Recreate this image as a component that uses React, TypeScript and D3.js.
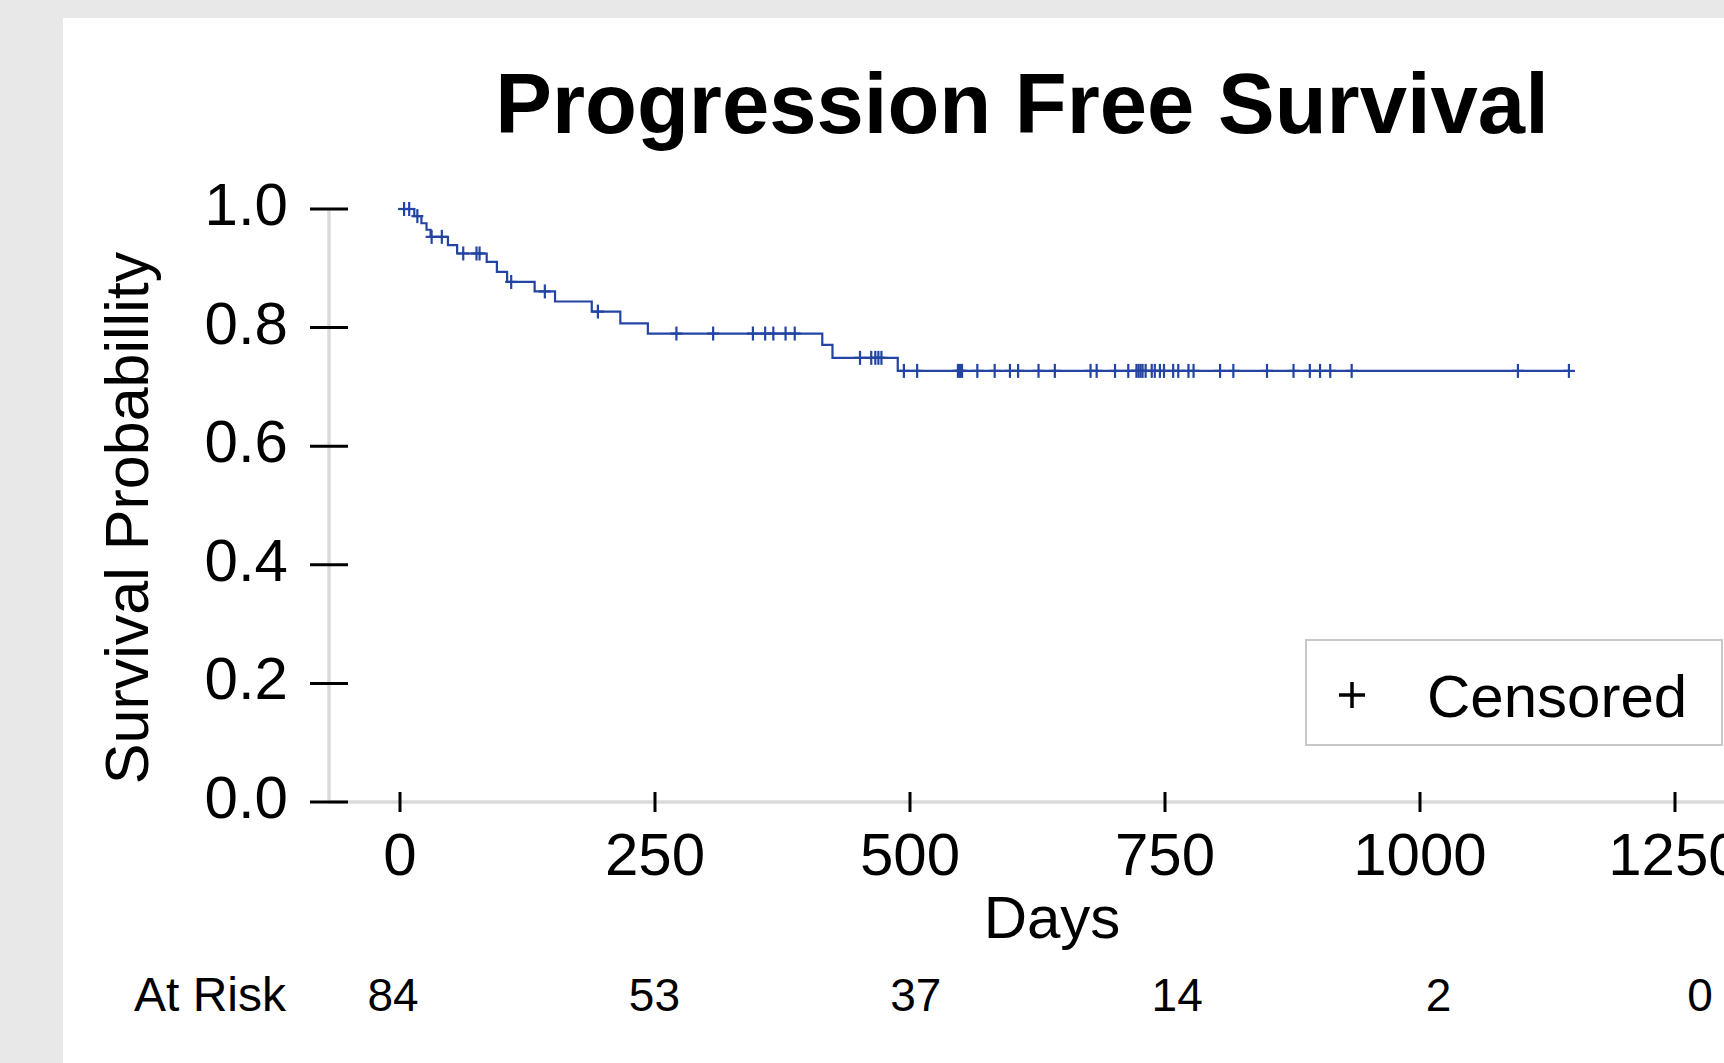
import * as d3 from 'd3';
import * as React from 'react';

const width = 1724;
const height = 1063;

// step curve: day of each drop and survival after it
const stepDays = [14, 21, 26, 30, 47, 56, 85, 95, 105, 132, 152, 188, 216, 243, 414, 424, 488];
const stepSurv = [0.988, 0.976, 0.965, 0.953, 0.939, 0.925, 0.911, 0.894, 0.877, 0.861, 0.844, 0.827, 0.807, 0.79, 0.771, 0.749, 0.727];

// censored observations (days)
const censorDays = [
  4, 9, 17, 31, 41, 62, 75, 78, 109, 142, 194, 271, 307, 346, 358, 366, 378, 387,
  451, 462, 466, 469, 472, 494, 507, 547, 549, 551, 566, 583, 598, 606, 626, 642,
  677, 683, 701, 714, 722, 724, 726, 728, 731, 737, 740, 745, 749, 758, 763, 773,
  778, 804, 817, 850, 876, 892, 902, 912, 933, 1096, 1146,
];

const xTicks = [0, 250, 500, 750, 1000, 1250];
const yTicks = [0, 0.2, 0.4, 0.6, 0.8, 1.0];
const atRisk = [84, 53, 37, 14, 2, 0];

const font = 'Liberation Sans, Arial, Helvetica, sans-serif';
const blue = '#2344a3';

export default () => {
  const x = d3.scaleLinear().domain([0, 1250]).range([400, 1675]);
  const y = d3.scaleLinear().domain([0, 1]).range([802, 209]);
  const riskX = d3.scaleLinear().domain([0, 1250]).range([393, 1700]);

  const lastDay = d3.max(censorDays) as number;
  const pts: [number, number][] = [[0, 1]];
  stepDays.forEach((d, i) => pts.push([d, stepSurv[i]]));
  pts.push([lastDay, stepSurv[stepSurv.length - 1]]);

  const line = d3
    .line<[number, number]>()
    .x(d => x(d[0]))
    .y(d => y(d[1]))
    .curve(d3.curveStepAfter);

  // survival level at a given day
  const survAt = (t: number) => {
    let s = 1;
    stepDays.forEach((d, i) => {
      if (d <= t) s = stepSurv[i];
    });
    return s;
  };

  const axisX = 329;

  return (
    <svg
      width={width}
      height={height}
      style={{ position: 'absolute', left: 0, top: 0, fontFamily: font }}
    >
      <rect x={0} y={0} width={width} height={height} fill="#e8e8e8" />
      <rect x={63} y={18} width={width - 63} height={height - 18} fill="#fff" />

      <text x={1022} y={133} textAnchor="middle" fontSize={85} fontWeight="bold">
        Progression Free Survival
      </text>

      {/* axes */}
      <line x1={axisX} x2={axisX} y1={y(1)} y2={y(0)} stroke="#dadada" strokeWidth={3.5} />
      <line x1={axisX} x2={width} y1={y(0)} y2={y(0)} stroke="#dadada" strokeWidth={3.5} />

      {yTicks.map(t => (
        <g key={t}>
          <line x1={axisX - 19} x2={axisX + 19} y1={y(t)} y2={y(t)} stroke="#000" strokeWidth={3} />
          <text x={288} y={y(t) + 16} textAnchor="end" fontSize={60}>
            {t.toFixed(1)}
          </text>
        </g>
      ))}

      {xTicks.map(t => (
        <g key={t}>
          <line x1={x(t)} x2={x(t)} y1={y(0) - 10} y2={y(0) + 10} stroke="#000" strokeWidth={3} />
          <text x={x(t)} y={875} textAnchor="middle" fontSize={60}>
            {t}
          </text>
        </g>
      ))}

      <text
        transform={`translate(148,518) rotate(-90)`}
        textAnchor="middle"
        fontSize={61}
      >
        Survival Probabillity
      </text>
      <text x={1052} y={938} textAnchor="middle" fontSize={60}>
        Days
      </text>

      {/* survival curve */}
      <path d={line(pts) || ''} fill="none" stroke={blue} strokeWidth={2.2} />
      <g stroke={blue} strokeWidth={2.2}>
        {censorDays.map((d, i) => {
          const cx = x(d);
          const cy = y(survAt(d));
          return (
            <g key={i}>
              <line x1={cx} x2={cx} y1={cy - 7} y2={cy + 7} />
              <line x1={cx - 6} x2={cx + 6} y1={cy} y2={cy} />
            </g>
          );
        })}
      </g>

      {/* legend */}
      <rect x={1306} y={640} width={416} height={105} fill="#fff" stroke="#c8c8c8" strokeWidth={2} />
      <line x1={1339} x2={1365} y1={695} y2={695} stroke="#000" strokeWidth={3.5} />
      <line x1={1352} x2={1352} y1={682} y2={708} stroke="#000" strokeWidth={3.5} />
      <text x={1427} y={717} fontSize={60}>
        Censored
      </text>

      {/* number at risk */}
      <text x={286} y={1011} textAnchor="end" fontSize={48}>
        At Risk
      </text>
      {xTicks.map((t, i) => (
        <text key={t} x={riskX(t)} y={1011} textAnchor="middle" fontSize={46}>
          {atRisk[i]}
        </text>
      ))}
    </svg>
  );
};
